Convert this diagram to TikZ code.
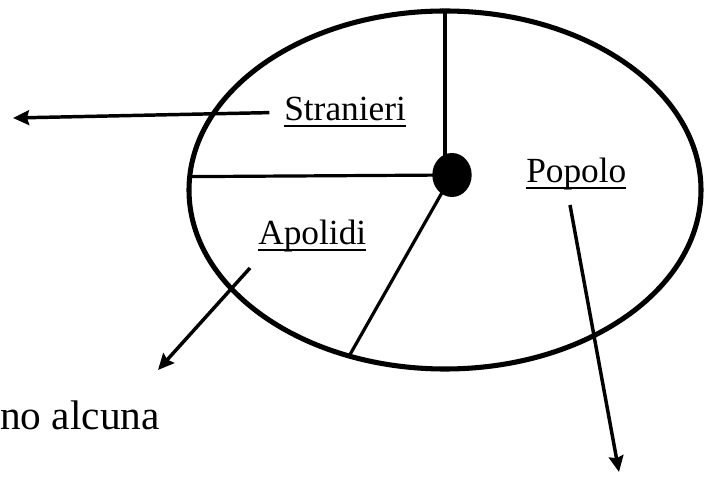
\documentclass[tikz,border=0pt]{standalone}
\usepackage{fontspec}
\setmainfont{Liberation Serif}
\usetikzlibrary{arrows.meta,shapes.geometric}
\newsavebox{\ulbox}
\newcommand{\ulword}[1]{\sbox{\ulbox}{#1}\rlap{\rule[-4.5pt]{\wd\ulbox}{1.6pt}}\usebox{\ulbox}}
\tikzset{
  % The territory and its centre.
  sfig/border/.style={
    draw=black, ellipse, line width=3.8pt, inner sep=0pt, outer sep=0pt
  },
  sfig/core/.style={
    fill=black, ellipse, inner sep=0pt, minimum width=29.5pt, minimum height=33pt
  },
  % Dividing lines inside the ellipse.
  sfig/cut/.style={
    draw=black, line width=2.4pt
  },
  sfig/arrow/.style={
    -{Stealth[length=12pt,width=11pt,inset=1.5pt]}, line width=2.6pt, draw=black
  },
  sfig/label/.style={
    inner sep=0pt, anchor=base west, font=\fontsize{26.5}{30}\selectfont
  },
}

\begin{document}
\begin{tikzpicture}[x=0.75pt,y=-0.75pt]
  \useasboundingbox (0,0) rectangle (711,477);
  \node[sfig/border, minimum width=384pt, minimum height=268.5pt] (stato) at (445,190) {};
  \coordinate (c) at (452,175);
  \draw[sfig/cut] (stato.north) -- (stato.north |- c);
  \draw[sfig/cut] (stato.177) -- (c);
  \draw[sfig/cut] (stato.240) -- (c);
  \node[sfig/core] (centro) at (c) {};
  \node[sfig/label] (stranieri) at (284,121) {\ulword{Stranieri}};
  \node[sfig/label] (popolo)    at (526,183) {\ulword{Popolo}};
  \node[sfig/label] (apolidi)   at (258,245) {\ulword{Apolidi}};
  \node[sfig/label, font=\fontsize{31}{36}\selectfont] (nota) at (0,430) {no alcuna};
  \coordinate (sOut) at (13,118);
  \coordinate (aIn)  at (250,268);
  \coordinate (aOut) at (158,370);
  \coordinate (pIn)  at (570,205);
  \coordinate (pOut) at (619,472);
  \draw[sfig/arrow, shorten <=11pt] (stranieri.west) -- (sOut);
  \draw[sfig/arrow] (aIn) -- (aOut);
  \draw[sfig/arrow] (pIn) -- (pOut);
\end{tikzpicture}
\end{document}
